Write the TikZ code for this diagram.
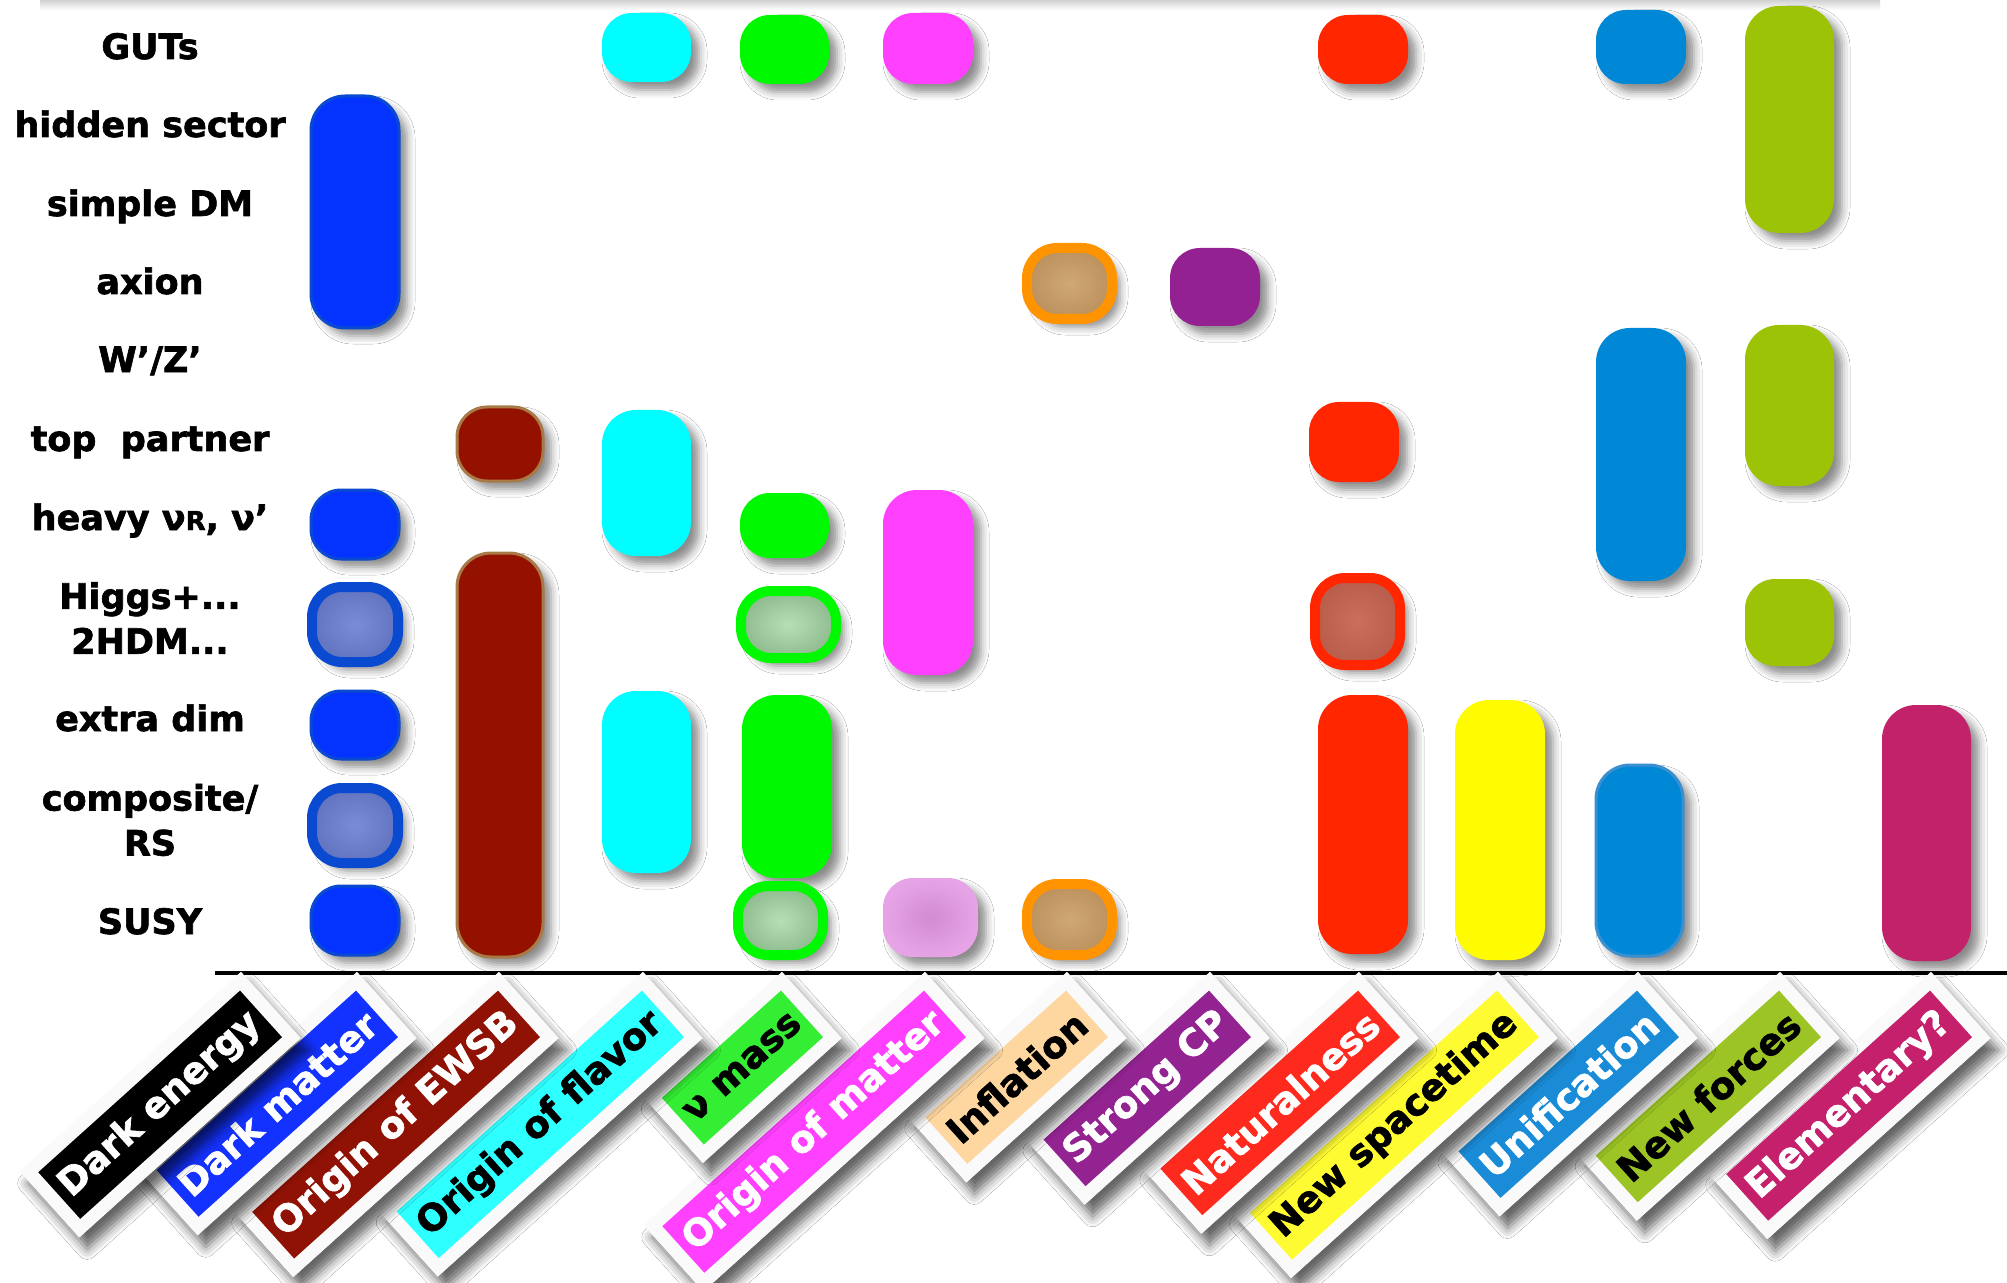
\documentclass[tikz,border=0pt]{standalone}
\usepackage{fontspec}
\setmainfont{DejaVu Sans}[BoldFeatures={FakeBold=1.8}]
\usetikzlibrary{shadows.blur}
\definecolor{dmblue}{HTML}{0433FF}
\definecolor{dmedge}{HTML}{0A4AD0}
\definecolor{ewsb}{HTML}{941100}
\definecolor{ewsbedge}{HTML}{A87A48}
\definecolor{flav}{HTML}{00FDFF}
\definecolor{numass}{HTML}{00F900}
\definecolor{matter}{HTML}{FF40FF}
\definecolor{infl}{HTML}{FF9300}
\definecolor{scp}{HTML}{942192}
\definecolor{nat}{HTML}{FF2600}
\definecolor{spacet}{HTML}{FFFB00}
\definecolor{unif}{HTML}{0088D6}
\definecolor{unifedge}{HTML}{3A8FD0}
\definecolor{nforce}{HTML}{9CC305}
\definecolor{elem}{HTML}{C2226A}
\definecolor{dmin}{HTML}{7A8CD8}
\definecolor{dmout}{HTML}{6273C0}
\definecolor{nuin}{HTML}{B6DFB6}
\definecolor{nuout}{HTML}{8FBB8F}
\definecolor{infin}{HTML}{CFA876}
\definecolor{infout}{HTML}{BC915E}
\definecolor{natin}{HTML}{CC6E5C}
\definecolor{natout}{HTML}{B95E4C}
\definecolor{matin}{HTML}{D28CD2}
\definecolor{matout}{HTML}{E6A4E6}
\definecolor{frame}{HTML}{FAFAFA}
% tag colours
\definecolor{tdm}{HTML}{1432FF}
\definecolor{tewsb}{HTML}{8F1205}
\definecolor{tflav}{HTML}{2EFFFF}
\definecolor{tnu}{HTML}{33EE33}
\definecolor{tmat}{HTML}{FF40FF}
\definecolor{tinf}{HTML}{FDD6A0}
\definecolor{tscp}{HTML}{922391}
\definecolor{tnat}{HTML}{FF2A1E}
\definecolor{tspace}{HTML}{FFFB33}
\definecolor{tunif}{HTML}{1A8BD6}
\definecolor{tforce}{HTML}{9BC424}
\definecolor{telem}{HTML}{C4206C}
\newcommand{\lblfont}{\fontsize{17.5pt}{22.5pt}\selectfont\bfseries}
\newcommand{\tagfont}{\fontsize{18.5pt}{22pt}\selectfont\bfseries}
\newcommand{\bx}[5]{\path[#5] (#1,#2) rectangle (#3,#4);}
% tag: #1 number, #2 x of top corner, #3 fill, #4 text colour, #5 text
\newcommand{\tagx}[5]{%
  \path node[tagbase] (p#1) at (#2,972) {\phantom{#5}};
  \path[fill=frame,tagshadow] (p#1.north east) -- (p#1.south east)
     -- (p#1.south west) -- (p#1.north west) -- cycle;
  \node[tagbase,draw=frame,fill=#3,text=#4] (t#1) at (#2,972) {#5};}
\begin{document}
\begin{tikzpicture}[x=0.5pt,y=-0.5pt,
  shad/.style={blur shadow={shadow xshift=4pt,shadow yshift=-4pt,shadow blur radius=4pt,shadow opacity=45}},
  box/.style={shad,rounded corners=15pt},
  tall/.style={shad,rounded corners=17pt},
  ring/.style={box,line width=5pt,shading=radial},
  rowlbl/.style={font=\lblfont,align=center,anchor=base},
  tagbase/.style={rotate=42,anchor=north east,line width=6.5pt,outer sep=3.25pt,
    minimum height=38pt,inner xsep=7pt,inner ysep=0pt,font=\tagfont},
  tagshadow/.style={blur shadow={shadow xshift=4pt,shadow yshift=-6pt,shadow blur radius=5pt,shadow opacity=60}}]
\useasboundingbox (0,0) rectangle (2007,1283);
\fill[white] (0,0) rectangle (2007,1283);
\shade[top color=black!18,bottom color=white] (40,0) rectangle (1880,10);

% row labels
\node[rowlbl] (l1) at (150,59) {GUTs};
\node[rowlbl] (l2) at (150,137) {hidden sector};
\node[rowlbl] (l3) at (150,216) {simple DM};
\node[rowlbl] (l4) at (150,294) {axion};
\node[rowlbl] (l5) at (150,372) {W’/Z’};
\node[rowlbl] (l6) at (150,451) {top\ \ partner};
\node[rowlbl] (l7) at (150,530) {heavy ν{\fontsize{13pt}{13pt}\selectfont R}, ν’};
\node[font=\lblfont,align=center] (l8) at (150,618) {Higgs+...\\2HDM...};
\node[rowlbl] (l9) at (150,731) {extra dim};
\node[font=\lblfont,align=center] (l10) at (150,820) {composite/\\RS};
\node[rowlbl] (l11) at (150,934) {SUSY};

% Dark matter column
\bx{311}{96}{399}{328}{tall,fill=dmblue,draw=dmedge,line width=1.5pt}
\bx{311}{490}{399}{559}{box,fill=dmblue,draw=dmedge,line width=1.5pt}
\bx{312}{587}{398}{662}{ring,draw=dmedge,inner color=dmin,outer color=dmout}
\bx{311}{691}{399}{759}{box,fill=dmblue,draw=dmedge,line width=1.5pt}
\bx{312}{788}{398}{863}{ring,draw=dmedge,inner color=dmin,outer color=dmout}
\bx{311}{886}{399}{955}{box,fill=dmblue,draw=dmedge,line width=1.5pt}
% EWSB
\bx{457}{407}{543}{481}{box,fill=ewsb,draw=ewsbedge,line width=1.5pt}
\bx{457}{553}{543}{957}{tall,fill=ewsb,draw=ewsbedge,line width=1.5pt}
% flavor
\bx{602}{13}{691}{82}{box,fill=flav}
\bx{602}{410}{691}{556}{tall,fill=flav}
\bx{602}{691}{691}{873}{tall,fill=flav}
% nu mass
\bx{740}{15}{829}{84}{box,fill=numass}
\bx{740}{493}{829}{558}{box,fill=numass}
\bx{741}{591}{836}{658}{ring,draw=numass,inner color=nuin,outer color=nuout}
\bx{742}{695}{832}{878}{tall,fill=numass}
\bx{738}{886}{823}{955}{ring,draw=numass,inner color=nuin,outer color=nuout}
% origin of matter
\bx{883}{13}{973}{84}{box,fill=matter}
\bx{883}{490}{973}{675}{tall,fill=matter}
\bx{883}{878}{978}{957}{box,shading=radial,inner color=matin,outer color=matout}
% inflation
\bx{1027}{248}{1112}{319}{ring,draw=infl,inner color=infin,outer color=infout}
\bx{1027}{884}{1112}{955}{ring,draw=infl,inner color=infin,outer color=infout}
% strong CP
\bx{1170}{248}{1260}{326}{box,fill=scp}
% naturalness
\bx{1318}{15}{1408}{84}{box,fill=nat}
\bx{1309}{402}{1399}{482}{box,fill=nat}
\bx{1315}{578}{1400}{665}{ring,draw=nat,inner color=natin,outer color=natout}
\bx{1318}{695}{1408}{954}{tall,fill=nat}
% new spacetime
\bx{1455}{700}{1545}{960}{tall,fill=spacet}
% unification
\bx{1596}{10}{1686}{84}{box,fill=unif}
\bx{1596}{328}{1686}{581}{tall,fill=unif}
\bx{1596}{765}{1683}{956}{tall,fill=unif,draw=unifedge,line width=1.5pt}
% new forces
\bx{1745}{6}{1834}{233}{tall,fill=nforce}
\bx{1745}{325}{1834}{486}{tall,fill=nforce}
\bx{1745}{579}{1834}{666}{box,fill=nforce}
% elementary
\bx{1882}{705}{1971}{961}{tall,fill=elem}

% base line
\coordinate (b0) at (215,973);
\coordinate (b1) at (2007,973);
\draw[line width=2pt] (b0) -- (b1);

% tags (right to left so left ones lie on top)
\tagx{13}{1931}{telem}{white}{Elementary?}
\tagx{12}{1780}{tforce}{black}{New forces}
\tagx{11}{1638}{tunif}{white}{Unification}
\tagx{10}{1498}{tspace}{black}{New spacetime}
\tagx{9}{1359}{tnat}{white}{Naturalness}
\tagx{8}{1210}{tscp}{white}{Strong CP}
\tagx{7}{1067}{tinf}{black}{Inflation}
\tagx{6}{925}{tmat}{white}{Origin of matter}
\tagx{5}{782}{tnu}{black}{ν mass}
\tagx{4}{643}{tflav}{black}{Origin of flavor}
\tagx{3}{499}{tewsb}{white}{Origin of EWSB}
\tagx{2}{357}{tdm}{white}{Dark matter}
\tagx{1}{241}{black}{white}{Dark energy}
\end{tikzpicture}
\end{document}
